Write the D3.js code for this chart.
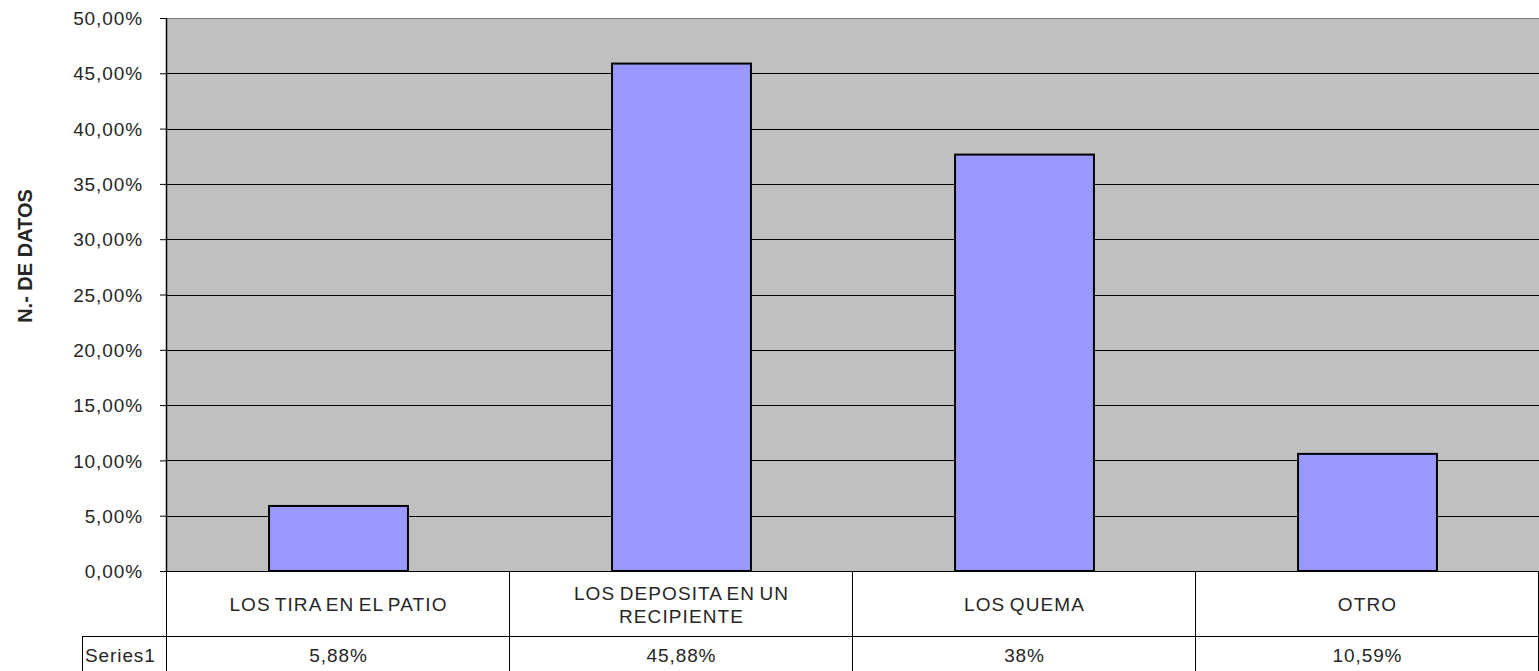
<!DOCTYPE html>
<html><head><meta charset="utf-8">
<script src="https://cdn.jsdelivr.net/npm/d3@7"></script>
<style>body{margin:0;background:#fff}svg{display:block}text{font-family:"Liberation Sans",Arial,sans-serif}</style>
</head><body><svg id="c" width="1539" height="671"></svg>
<script>
const categories = [["LOS TIRA EN EL PATIO"], ["LOS DEPOSITA EN UN", "RECIPIENTE"], ["LOS QUEMA"], ["OTRO"]];
const values = [0.0588, 0.4588, 0.3765, 0.1059];
const tableLabels = ["5,88%", "45,88%", "38%", "10,59%"];
const seriesName = "Series1";
const yTicks = [0, 0.05, 0.10, 0.15, 0.20, 0.25, 0.30, 0.35, 0.40, 0.45, 0.50];
const yTitle = "N.- DE DATOS";

const svg = d3.select("#c");
const L = 167, R = 1539, T = 18, B = 571;
const x = d3.scaleBand().domain(d3.range(categories.length)).range([L, R]).paddingInner(0).paddingOuter(0);
const y = d3.scaleLinear().domain([0, 0.5]).range([B, T]);
const fmt = v => (v * 100).toFixed(2).replace(".", ",") + "%";
const txtCol = "#262626";

svg.append("rect").attr("x", L).attr("y", T).attr("width", R - L).attr("height", B - T).attr("fill", "#C0C0C0");

const ax = svg.append("g").attr("transform", `translate(${L},0)`)
  .call(d3.axisLeft(y).tickValues(yTicks).tickFormat(fmt).tickSize(7).tickPadding(17));
ax.select(".domain").remove();
ax.selectAll(".tick line").attr("stroke", "#000");
ax.selectAll(".tick text").attr("font-size", 19).attr("letter-spacing", "0.9px").attr("fill", txtCol).attr("dy", "0.35em");

svg.append("g").selectAll("line").data(yTicks.filter(d => d > 0)).join("line")
  .attr("x1", L).attr("x2", R).attr("y1", d => Math.round(y(d)) + 0.5).attr("y2", d => Math.round(y(d)) + 0.5)
  .attr("stroke", d => d === 0.5 ? "#808080" : "#000").attr("stroke-width", 1);

const bw = x.bandwidth() * 0.405;
svg.append("g").selectAll("rect").data(values).join("rect")
  .attr("x", (d, i) => x(i) + (x.bandwidth() - bw) / 2)
  .attr("y", d => y(d)).attr("width", bw).attr("height", d => B - y(d))
  .attr("fill", "#9999FF").attr("stroke", "#000").attr("stroke-width", 2);

svg.append("line").attr("x1", L - 0.5).attr("x2", L - 0.5).attr("y1", T).attr("y2", B).attr("stroke", "#000").attr("stroke-width", 1.5);
svg.append("line").attr("x1", L - 7).attr("x2", R).attr("y1", B + 0.5).attr("y2", B + 0.5).attr("stroke", "#000");

// data table
const rowMid = 636, bot = 671, tblLeft = 82;
const tg = svg.append("g");
tg.append("line").attr("x1", tblLeft).attr("x2", R).attr("y1", rowMid + 0.5).attr("y2", rowMid + 0.5).attr("stroke", "#000");
tg.append("line").attr("x1", tblLeft + 0.5).attr("x2", tblLeft + 0.5).attr("y1", rowMid).attr("y2", bot).attr("stroke", "#000");
tg.selectAll("line.v").data(d3.range(categories.length + 1)).join("line").attr("class", "v")
  .attr("x1", i => (i < categories.length ? x(i) : R) - 0.5).attr("x2", i => (i < categories.length ? x(i) : R) - 0.5)
  .attr("y1", B).attr("y2", bot).attr("stroke", "#000");
categories.forEach((lines, i) => {
  const cx = x(i) + x.bandwidth() / 2;
  const t = tg.append("text").attr("x", cx).attr("text-anchor", "middle").attr("font-size", 19)
    .attr("letter-spacing", "1.1px").attr("word-spacing", "-2px").attr("fill", txtCol);
  const cy = lines.length > 1 ? 604.5 : 604;
  lines.forEach((ln, j) => t.append("tspan").attr("x", cx)
    .attr("y", cy + (j - (lines.length - 1) / 2) * 23).attr("dy", "0.35em").text(ln));
  tg.append("text").attr("x", cx).attr("y", 655).attr("dy", "0.35em")
    .attr("text-anchor", "middle").attr("font-size", 19).attr("letter-spacing", "0.9px").attr("fill", txtCol).text(tableLabels[i]);
});
tg.append("text").attr("x", 85).attr("y", 655).attr("dy", "0.35em").attr("font-size", 19).attr("letter-spacing", "0.9px").attr("fill", txtCol).text(seriesName);

svg.append("text").attr("transform", `translate(32,256) rotate(-90)`).attr("text-anchor", "middle")
  .attr("font-size", 20).attr("font-weight", "bold").attr("fill", txtCol).text(yTitle);
</script></body></html>
